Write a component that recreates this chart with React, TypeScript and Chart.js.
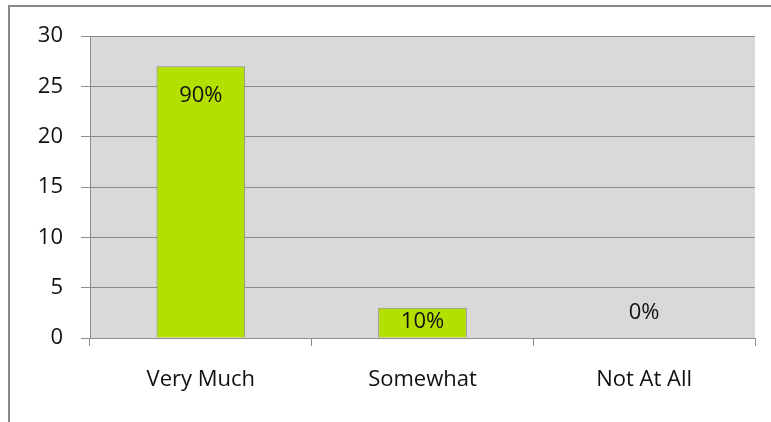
import React, { useEffect, useRef } from "react";
import { Chart, registerables } from "chart.js";

Chart.register(...registerables);

const categories = ["Very Much", "Somewhat", "Not At All"];
const counts = [27, 3, 0];
const percentLabels = ["90%", "10%", "0%"];
const yTicks = [0, 5, 10, 15, 20, 25, 30];

const FONT = "'Open Sans', sans-serif";
const FONT_SIZE = 22;
const GRID = "#8c8c8c";
const TEXT = "#111111";

const framePlugin = {
  id: "frame",
  beforeDraw(chart: any) {
    const { ctx, chartArea } = chart;
    ctx.save();
    ctx.fillStyle = "#ffffff";
    ctx.fillRect(0, 0, chart.width, chart.height);
    ctx.fillStyle = "#d9d9d9";
    ctx.fillRect(chartArea.left, chartArea.top, chartArea.right - chartArea.left, chartArea.bottom - chartArea.top);
    ctx.strokeStyle = "#888888";
    ctx.lineWidth = 2;
    ctx.beginPath();
    ctx.moveTo(9, chart.height);
    ctx.lineTo(9, 6);
    ctx.lineTo(chart.width, 6);
    ctx.stroke();
    ctx.restore();
  },
};

const labelPlugin = {
  id: "barLabels",
  afterDatasetsDraw(chart: any) {
    const { ctx } = chart;
    const meta = chart.getDatasetMeta(0);
    ctx.save();
    ctx.font = `${FONT_SIZE}px ${FONT}`;
    ctx.fillStyle = TEXT;
    ctx.textAlign = "center";
    ctx.textBaseline = "middle";
    meta.data.forEach((bar: any, i: number) => {
      const top = bar.y;
      const base = bar.base;
      let y: number;
      if (base - top < 1) y = base - 25;
      else y = Math.min(top + 30, (top + base) / 2 - 1);
      ctx.fillText(percentLabels[i], bar.x, y);
    });
    ctx.restore();
  },
};

export default function App() {
  const ref = useRef<HTMLCanvasElement>(null);
  useEffect(() => {
    if (!ref.current) return;
    const chart = new Chart(ref.current, {
      type: "bar",
      data: {
        labels: categories,
        datasets: [
          {
            data: counts,
            backgroundColor: "#b3e000",
            borderColor: "#8c8c8c",
            borderWidth: 1,
            barPercentage: 0.4,
            categoryPercentage: 1,
          },
        ],
      },
      options: {
        animation: false,
        responsive: false,
        maintainAspectRatio: false,
        layout: { padding: { left: 0, top: 36, right: 16, bottom: 0 } },
        plugins: { legend: { display: false }, tooltip: { enabled: false } },
        scales: {
          x: {
            grid: {
              offset: true,
              drawOnChartArea: false,
              drawTicks: true,
              tickLength: 8,
              color: GRID,
            },
            border: { color: GRID, width: 1 },
            ticks: {
              font: { family: FONT, size: FONT_SIZE },
              color: TEXT,
              padding: 21,
              maxRotation: 0,
            },
            afterFit(scale: any) {
              scale.height = 84;
            },
          },
          y: {
            min: 0,
            max: 30,
            afterBuildTicks(scale: any) {
              scale.ticks = yTicks.map((v) => ({ value: v }));
            },
            grid: { color: GRID, tickLength: 9, drawTicks: true },
            border: { color: GRID, width: 1 },
            ticks: {
              font: { family: FONT, size: FONT_SIZE },
              color: TEXT,
              padding: 18,
            },
            afterFit(scale: any) {
              scale.width = 90;
            },
          },
        },
      },
      plugins: [framePlugin, labelPlugin],
    });
    return () => chart.destroy();
  }, []);
  return (
    <div style={{ position: "absolute", left: 0, top: 0, width: 771, height: 422 }}>
      <canvas ref={ref} width={771} height={422} style={{ display: "block" }} />
    </div>
  );
}
